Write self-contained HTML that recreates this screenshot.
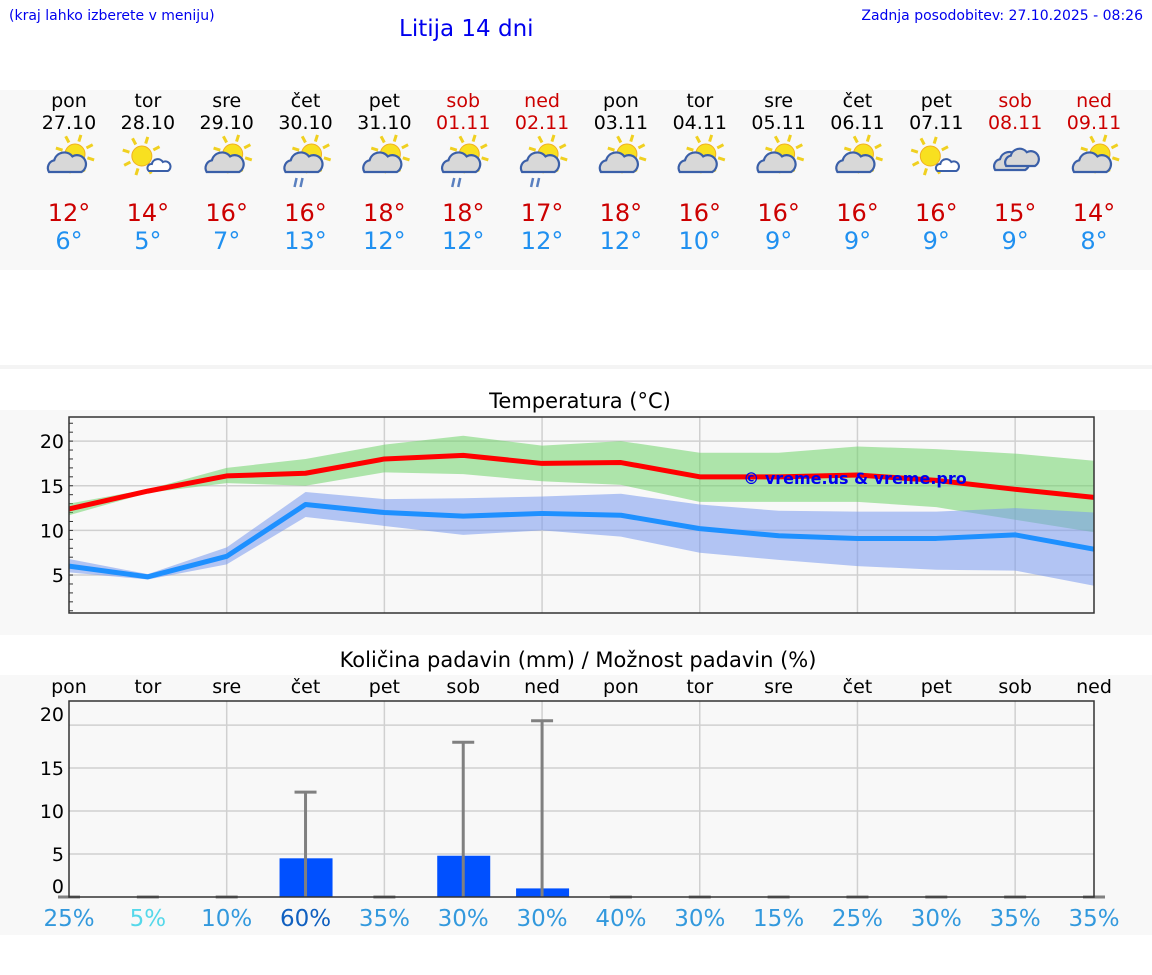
<!DOCTYPE html>
<html><head><meta charset="utf-8"><style>
body{margin:0;width:1152px;height:975px;background:#fff;font-family:"DejaVu Sans","Liberation Sans",sans-serif;position:relative;overflow:hidden}
.abs{position:absolute}
</style></head><body>
<div class="abs" style="left:9px;top:8px;font-size:14px;color:#0000ee">(kraj lahko izberete v meniju)</div>
<div class="abs" style="left:399px;top:16px;font-size:23px;color:#0000ee">Litija 14 dni</div>
<div class="abs" style="right:9px;top:8px;font-size:14px;color:#0000ee">Zadnja posodobitev: 27.10.2025 - 08:26</div>
<svg id="main" class="abs" style="left:0;top:0" width="1152" height="975"></svg>
<script>
const days=["pon","tor","sre","čet","pet","sob","ned","pon","tor","sre","čet","pet","sob","ned"];
const dates=["27.10","28.10","29.10","30.10","31.10","01.11","02.11","03.11","04.11","05.11","06.11","07.11","08.11","09.11"];
const icons=["A","B","A","R","A","R","R","A","A","A","A","B","C","A"];
const tmax=[12.4,14.4,16.1,16.4,18,18.4,17.5,17.6,16,16,16.2,15.6,14.6,13.7];
const tmaxHi=[13,14.6,17,18,19.6,20.6,19.5,20,18.7,18.7,19.4,19.1,18.6,17.8];
const tmaxLo=[11.7,14.2,15.3,15,16.5,16.3,15.5,15.1,13.2,13.2,13.2,12.6,11.2,9.8];
const tmin=[6,4.8,7.1,12.9,12,11.6,11.9,11.7,10.2,9.4,9.1,9.1,9.5,7.9];
const tminHi=[6.8,5.1,8.1,14.3,13.5,13.6,13.8,14.1,12.9,12.2,12.1,12.1,12.5,12];
const tminLo=[5.3,4.5,6.2,11.5,10.5,9.5,10,9.3,7.5,6.7,6,5.6,5.5,3.8];
const maxLabels=["12°","14°","16°","16°","18°","18°","17°","18°","16°","16°","16°","16°","15°","14°"];
const minLabels=["6°","5°","7°","13°","12°","12°","12°","12°","10°","9°","9°","9°","9°","8°"];
const tempTicks=[5,10,15,20];
const rain=[0,0,0,4.5,0,4.8,1.0,0,0,0,0,0,0,0];
const rainMax=[0,0,0,12.2,0,18,20.5,0,0,0,0,0,0,0];
const rainTicks=[0,5,10,15,20];
const pop=[25,5,10,60,35,30,30,40,30,15,25,30,35,35];

const NS="http://www.w3.org/2000/svg";
const svg=document.getElementById('main');
function el(tag,attrs,parent){const e=document.createElementNS(NS,tag);for(const k in attrs)e.setAttribute(k,attrs[k]);(parent||svg).appendChild(e);return e;}
const X0=69,X1=1094;
const xs=i=>X0+i*(X1-X0)/13;
let r;
r=el('rect',{x:0,y:90,width:1152,height:180,fill:'#f8f8f8'});


r=el('rect',{x:0,y:365,width:1152,height:4,fill:'#f4f4f4'});


r=el('rect',{x:0,y:410,width:1152,height:225,fill:'#f8f8f8'});


r=el('rect',{x:0,y:675,width:1152,height:260,fill:'#f8f8f8'});



function sun(g,cx,cy,rad){
  for(let k=0;k<8;k++){const a=k*Math.PI/4+0.3;el('line',{x1:cx+Math.cos(a)*(rad+3),y1:cy+Math.sin(a)*(rad+3),x2:cx+Math.cos(a)*(rad+10),y2:cy+Math.sin(a)*(rad+10),stroke:'#f0d020','stroke-width':3},g);}
  el('circle',{cx:cx,cy:cy,r:rad,fill:'#f8e020',stroke:'#f0b020','stroke-width':1},g);
}
function cloud(g,x,y,s){
  el('path',{d:`M${x} ${y} a${6*s} ${6*s} 0 0 1 ${4*s} ${-9*s} a${8*s} ${8*s} 0 0 1 ${14*s} ${-3*s} a${6*s} ${6*s} 0 0 1 ${7*s} ${12*s} z`,fill:'#d8d8d8',stroke:'#3a5fa8','stroke-width':2.2},g);
}
function makeIcon(type){
  const g=el('g',{});
  if(type==='C'){
    cloud(g,-20,10,1.2);cloud(g,-9,6,1.15);
  } else if(type==='B'){
    sun(g,-6,-4,10);
    el('path',{d:'M1 11 a4 4 0 0 1 3 -7 a6 6 0 0 1 11 -2 a4.5 4.5 0 0 1 5 9 z',fill:'#fff',stroke:'#3a5fa8','stroke-width':2},g);
  } else {
    sun(g,6,-6,10);
    cloud(g,-20,12,1.3);
    if(type==='R'){el('line',{x1:-9,y1:18,x2:-11,y2:27,stroke:'#5a80c0','stroke-width':2.5},g);el('line',{x1:-3,y1:18,x2:-5,y2:27,stroke:'#5a80c0','stroke-width':2.5},g);}
  }
  return g;
}
const weekend=[5,6,12,13];
for(let i=0;i<14;i++){
  const x=xs(i);const red=weekend.includes(i);
  let t=el('text',{x:x,y:107,'text-anchor':'middle','font-size':19,fill:red?'#cc0000':'#000'});t.textContent=days[i];
  
  
  t=el('text',{x:x,y:129,'text-anchor':'middle','font-size':19,fill:red?'#cc0000':'#000'});t.textContent=dates[i];
  
  
  const g=makeIcon(icons[i]);g.setAttribute('transform',`translate(${x},160)`);
  
  
  t=el('text',{x:x,y:221,'text-anchor':'middle','font-size':24,fill:'#cc0000'});t.textContent=maxLabels[i];
  
  
  t=el('text',{x:x,y:249,'text-anchor':'middle','font-size':24,fill:'#2090f0'});t.textContent=minLabels[i];
  
  
}

const TY0=613,TY1=417,TV0=0.75,TV1=22.7;
const ty=v=>TY0-(v-TV0)*(TY0-TY1)/(TV1-TV0);
let t=el('text',{x:580,y:408,'text-anchor':'middle','font-size':21,fill:'#000'});t.textContent='Temperatura (°C)';


for(let i=2;i<14;i+=2){const l=el('line',{x1:xs(i),x2:xs(i),y1:TY1,y2:TY0,stroke:'#d0d0d0','stroke-width':1.5});}
for(const v of tempTicks){
  const l=el('line',{x1:X0,x2:X1,y1:ty(v),y2:ty(v),stroke:'#d0d0d0','stroke-width':1.5});
  
  
  const tt=el('text',{x:64,y:ty(v)+7,'text-anchor':'end','font-size':19,fill:'#000'});tt.textContent=v;
  
  
}
for(let v=1;v<=22;v++){el('line',{x1:X0,x2:X0+4,y1:ty(v),y2:ty(v),stroke:'#333','stroke-width':1});}
function band(hi,lo,color,name){
  let d='M'+hi.map((v,i)=>xs(i)+' '+ty(v)).join(' L');
  d+=' L'+lo.map((v,i)=>xs(i)+' '+ty(v)).reverse().join(' L')+' Z';
  const p=el('path',{d:d,fill:color,'fill-opacity':0.55});
  
  
}
function line(vals,color,name){
  const p=el('polyline',{points:vals.map((v,i)=>xs(i)+','+ty(v)).join(' '),fill:'none',stroke:color,'stroke-width':5,'stroke-linejoin':'round'});
  
  
}
band(tmaxHi,tmaxLo,'#6fd36a','max-temp-range');
band(tminHi,tminLo,'#7899ee','min-temp-range');
line(tmin,'#1e90ff','min-temp-line');
line(tmax,'#ff0000','max-temp-line');
t=el('text',{x:855,y:484,'text-anchor':'middle','font-size':16,fill:'#0000ee','font-weight':'bold'});t.textContent='© vreme.us & vreme.pro';


r=el('rect',{x:X0,y:TY1,width:X1-X0,height:TY0-TY1,fill:'none',stroke:'#333','stroke-width':1.5});



const PY0=897,PY1=701,PV1=22.8;
const py=v=>PY0-v*(PY0-PY1)/PV1;
t=el('text',{x:578,y:667,'text-anchor':'middle','font-size':21,fill:'#000'});t.textContent='Količina padavin (mm) / Možnost padavin (%)';


for(let i=0;i<14;i++){const tt=el('text',{x:xs(i),y:693,'text-anchor':'middle','font-size':19,fill:'#000'});tt.textContent=days[i];}
for(let i=2;i<14;i+=2){const l=el('line',{x1:xs(i),x2:xs(i),y1:PY1,y2:PY0,stroke:'#d0d0d0','stroke-width':1.5});}
for(const v of rainTicks){
  if(v>0){const l=el('line',{x1:X0,x2:X1,y1:py(v),y2:py(v),stroke:'#d0d0d0','stroke-width':1.5});}
  const tt=el('text',{x:64,y:py(v)+(v===0?-4:v===20?-4:7),'text-anchor':'end','font-size':19,fill:'#000'});tt.textContent=v;
  
  
}
for(let i=0;i<14;i++){
  const x=xs(i);
  if(rain[i]>0){const b=el('rect',{x:x-26,y:py(rain[i]),width:53,height:PY0-py(rain[i]),fill:'#0050ff'});}
  const top=py(rainMax[i]);
  const e=el('line',{x1:x,x2:x,y1:top,y2:PY0,stroke:'#808080','stroke-width':3});
  
  
  el('line',{x1:x-11,x2:x+11,y1:top,y2:top,stroke:'#808080','stroke-width':3});
  const c=pop[i]<=5?'#55d8ea':pop[i]>=60?'#1060c0':'#3399dd';
  const tt=el('text',{x:x,y:926,'text-anchor':'middle','font-size':23,fill:c});tt.textContent=pop[i]+'%';
  
  
}
r=el('rect',{x:X0,y:PY1,width:X1-X0,height:PY0-PY1,fill:'none',stroke:'#333','stroke-width':1.5});


</script>
</body></html>
